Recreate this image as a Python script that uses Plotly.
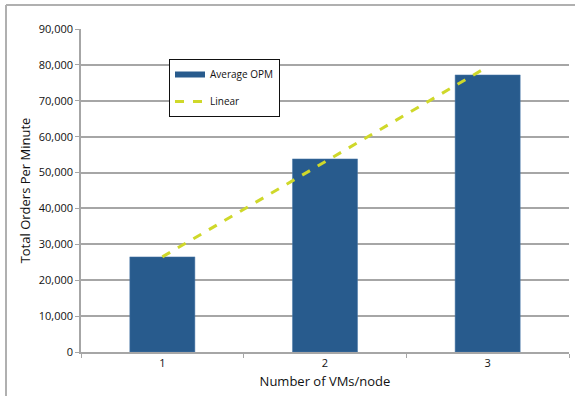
import plotly.graph_objects as go

# Data
vms_per_node = ["1", "2", "3"]
average_opm = [26500, 53800, 77200]
linear_opm = [26500, 53000, 79500]

BAR_COLOR = "#285b8d"
LINE_COLOR = "#cfd82a"
GRID_COLOR = "#a6a6a6"
FONT = "Open Sans, Lato, DejaVu Sans, sans-serif"

fig = go.Figure()

fig.add_trace(go.Bar(
    x=vms_per_node,
    y=average_opm,
    name="Average OPM",
    marker=dict(color=BAR_COLOR, line=dict(color="#4a78a8", width=0.5)),
    width=0.4,
    showlegend=False,
))

# Legend-only entry so the bar series shows as a flat band
fig.add_trace(go.Scatter(
    x=[None], y=[None],
    name="Average OPM",
    mode="lines",
    line=dict(color=BAR_COLOR, width=6),
    legendgroup="opm",
))

fig.add_trace(go.Scatter(
    x=vms_per_node,
    y=linear_opm,
    name="Linear",
    mode="lines",
    line=dict(color=LINE_COLOR, width=3, dash="dash"),
    legendgroup="lin",
))

# Plot area geometry (pixels)
W, H = 575, 396
ml, mr, mt, mb = 81, 6, 29, 44
pw, ph = W - ml - mr, H - mt - mb

# Outer chart frame
frame_left = (6 - ml) / pw
frame_top = 1 + (mt - 5) / ph
fig.add_shape(type="line", xref="paper", yref="paper",
              x0=frame_left, x1=1.2, y0=frame_top, y1=frame_top,
              line=dict(color="#b0b0b0", width=2))
fig.add_shape(type="line", xref="paper", yref="paper",
              x0=frame_left, x1=frame_left, y0=frame_top, y1=-0.3,
              line=dict(color="#b0b0b0", width=2))

fig.update_layout(
    width=W, height=H,
    margin=dict(l=ml, r=mr, t=mt, b=mb, pad=0),
    paper_bgcolor="white",
    plot_bgcolor="white",
    font=dict(family=FONT, size=11, color="#111111"),
    showlegend=True,
    legend=dict(
        x=(169 - ml) / pw, y=1 - (59 - mt) / ph,
        xanchor="left", yanchor="top",
        bgcolor="white",
        bordercolor="#111111", borderwidth=1,
        font=dict(size=10, family=FONT),
        itemwidth=30,
        tracegroupgap=8,
        traceorder="grouped",
    ),
    bargap=0.6,
)

fig.update_xaxes(
    type="category",
    range=[-0.5, 2.5],
    showline=True, linecolor=GRID_COLOR, linewidth=1.5,
    ticks="outside", tickson="boundaries", ticklen=4, tickcolor=GRID_COLOR,
    showgrid=False,
    tickfont=dict(size=11),
    title=dict(text="Number of VMs/node", font=dict(size=13), standoff=8),
)

fig.update_yaxes(
    range=[0, 90000],
    tickvals=[0, 10000, 20000, 30000, 40000, 50000, 60000, 70000, 80000, 90000],
    tickformat=",d",
    showline=True, linecolor=GRID_COLOR, linewidth=1.5,
    ticks="outside", ticklen=4, tickcolor=GRID_COLOR,
    showgrid=True, gridcolor=GRID_COLOR, gridwidth=1.5,
    zeroline=False,
    tickfont=dict(size=11),
    title=dict(text="Total Orders Per Minute", font=dict(size=13), standoff=5),
)

fig.write_html("out.html")
